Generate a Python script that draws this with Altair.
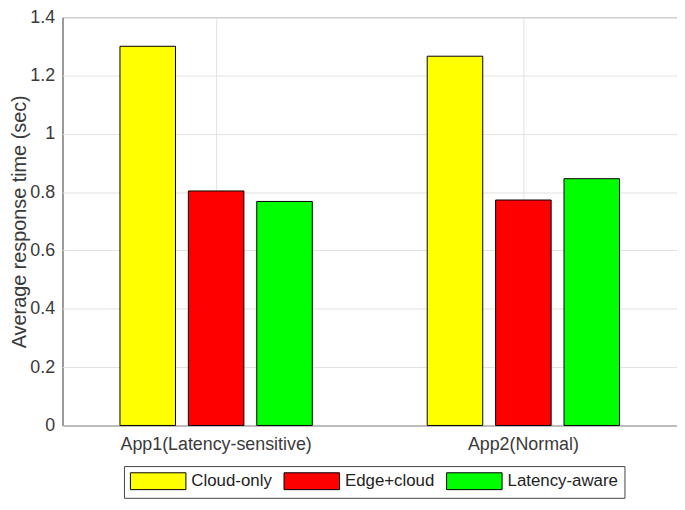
import altair as alt
import pandas as pd

apps = ["App1(Latency-sensitive)", "App2(Normal)"]
methods = ["Cloud-only", "Edge+cloud", "Latency-aware"]
cloud_only = [1.30, 1.266]
edge_cloud = [0.804, 0.773]
latency_aware = [0.768, 0.846]
colors = ["#ffff00", "#ff0000", "#00ff00"]
y_ticks = [0, 0.2, 0.4, 0.6, 0.8, 1.0, 1.2, 1.4]

rows = []
for i, app in enumerate(apps):
    for m, vals in zip(methods, [cloud_only, edge_cloud, latency_aware]):
        rows.append({"app": app, "method": m, "value": vals[i]})
df = pd.DataFrame(rows)

text_color = "#3a3a3a"
font = "Liberation Sans"

chart = alt.Chart(df).mark_bar(stroke="black", strokeWidth=1).encode(
    x=alt.X(
        "app:N",
        sort=apps,
        scale=alt.Scale(paddingInner=0.374, paddingOuter=0.187),
        axis=alt.Axis(
            title=None, labelAngle=0, grid=True, bandPosition=0.5, ticks=False,
            domain=False, labelFontSize=18, labelPadding=10, labelColor=text_color,
            labelLimit=400, gridColor="#e2e2e2", gridWidth=1,
        ),
    ),
    xOffset=alt.XOffset(
        "method:N", sort=methods,
        scale=alt.Scale(paddingInner=0.188, paddingOuter=0),
    ),
    y=alt.Y(
        "value:Q",
        scale=alt.Scale(domain=[0, 1.4], nice=False),
        axis=alt.Axis(
            values=y_ticks, format="~g", title="Average response time (sec)",
            ticks=False, domain=False, labelFontSize=18, labelPadding=8,
            labelColor=text_color, titleColor=text_color, titleFontSize=20,
            titleFontWeight="normal", titlePadding=0,
            gridColor="#e2e2e2", gridWidth=1,
        ),
    ),
    color=alt.Color(
        "method:N",
        sort=methods,
        scale=alt.Scale(domain=methods, range=colors),
        legend=alt.Legend(
            title=None, orient="none", legendX=62, legendY=453,
            direction="horizontal", columns=3,
            symbolType="M-1,-1 L5.59,-1 L5.59,1 L-1,1 Z", symbolSize=289,
            symbolStrokeColor="black", symbolStrokeWidth=1, symbolOpacity=1,
            symbolOffset=0, labelOffset=44, labelFontSize=17,
            labelColor="#222222", strokeColor="#444444", fillColor="white",
            padding=6, columnPadding=9,
        ),
    ),
).properties(
    width=620,
    height=412,
    padding={"left": 55, "top": 7, "right": 0, "bottom": 73},
    autosize=alt.AutoSizeParams(type="none"),
).configure(
    font=font,
).configure_view(
    stroke="#333333", strokeWidth=1,
)

chart.save("out.html", embed_options={"renderer": "svg", "actions": False})
